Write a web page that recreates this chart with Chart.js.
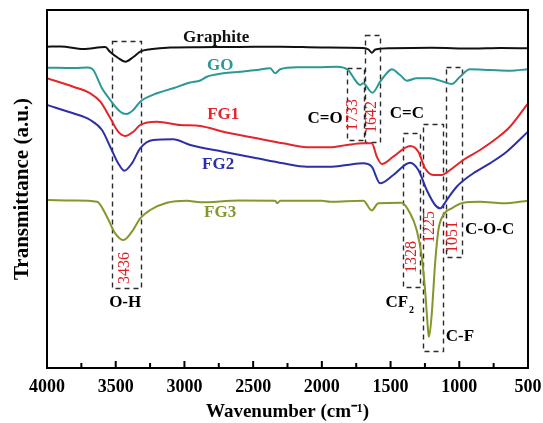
<!DOCTYPE html>
<html>
<head>
<meta charset="utf-8">
<script src="https://cdn.jsdelivr.net/npm/chart.js@4.4.1/dist/chart.umd.min.js"></script>
<style>
html, body { margin: 0; padding: 0; background: #ffffff; }
#wrap { width: 543px; height: 423px; }
</style>
</head>
<body>
<div id="wrap"><canvas id="ftir_graph" width="543" height="423"></canvas></div>
<script>
// wavenumber (cm-1) and transmittance (a.u., offset per curve)
const graphite_w = [4000,3900,3736,3576,3540,3482,3431,3372,3322,3249,3100,2900,2600,2300,2000,1700,1660,1637,1610,1500,1200,900,700,500];
const graphite_t = [320.3,320.6,318,320,315,309,305.3,310,315.3,317.7,319.5,319.8,320,320.3,319.5,319,317.5,314.3,317.5,318.7,319.2,318.5,319,318.7];

const go_w = [4000,3800,3700,3685,3663,3600,3540,3467,3423,3372,3322,3200,3082,2958,2885,2837,2718,2594,2473,2376,2340,2303,2182,2037,1891,1809,1758,1722,1700,1632,1576,1528,1491,1431,1382,1310,1213,1116,1055,995,922,777,631,500];
const go_t = [299.3,299,299.5,299,297,278.7,267,255.3,253,257,265.3,273.7,278.7,284.5,286.5,290.3,293.7,295.3,297,298.7,293.7,297.7,299.7,299.7,300.3,297,287,282,283.7,274.3,285.3,293.7,297.7,292,286.3,288.7,288.7,285.3,283,290.3,297.7,297,296.3,297.7];

const fg1_w = [4000,3809,3685,3612,3540,3482,3431,3372,3322,3200,3031,2885,2718,2473,2282,2109,1940,1818,1700,1637,1600,1564,1480,1358,1298,1249,1189,1128,1067,971,849,728,631,500];
const fg1_t = [288.7,280.3,273.7,265.3,249,235.3,231,235.3,242,245.3,242,241,235.3,228.7,223.7,219.7,219.7,222,223.7,223.7,210.3,203,210.3,221,215.3,198.7,192,192,197,207,217,228.7,240.3,263.7];

const fg2_w = [4000,3809,3685,3600,3540,3482,3438,3382,3322,3227,3082,2958,2718,2473,2282,2109,1940,1818,1700,1637,1576,1480,1358,1298,1237,1176,1140,1128,1091,1019,898,777,655,500];
const fg2_t = [262,253.7,247,237,220.3,203.7,196.3,203.7,218.7,227,227.7,222,215.3,208.7,203.7,200.3,200.3,202,203.7,200.3,183.7,192,204.3,197,177,162,158.7,159.5,167,180.3,193.7,203.7,215.3,235.3];

const fg3_w = [4000,3800,3636,3564,3504,3443,3382,3322,3249,3127,2982,2885,2600,2340,2325,2303,2000,1940,1698,1637,1589,1419,1358,1310,1273,1249,1225,1220,1200,1176,1152,1116,1055,971,849,680,500];
const fg3_t = [167,166.5,165.3,150.3,133.7,127,135.3,148.7,157,164.3,166.3,164.7,166.5,166.3,163.7,166.3,166.3,165.3,166.3,156.5,163.7,164.3,153.7,137,110.3,77,33.7,30.3,53.7,103.7,137,152,158.7,164.3,165.3,163.7,166.3];

const series_names  = ["Graphite", "GO", "FG1", "FG2", "FG3"];
const series_colors = ["#111111", "#2b9893", "#e2262c", "#2d2fa6", "#86962b"];

// peak markers: [from cm-1, to cm-1, top T, bottom T]
const peak_boxes = [
    [3530, 3322, 326.3, 79.7],
    [1685, 1576, 332, 225.3],
    [1818, 1693, 298.7, 227],
    [1096, 980, 300.3, 110.3],
    [1407, 1286, 233.7, 79.7],
    [1264, 1116, 242.7, 15.3]
];
const peak_numbers = [["3436", 3431, 99], ["1733", 1773, 252], ["1642", 1639, 250], ["1328", 1348, 110], ["1225", 1213, 140], ["1051", 1044, 130]];
const group_labels = [["C=O", 1977, 248], ["C=C", 1381, 253], ["O-H", 3431, 64], ["C-F", 995, 30], ["C-O-C", 779, 137]];
const curve_labels = [["Graphite", 2769, 329], ["GO", 2740, 301], ["FG1", 2718, 252], ["FG2", 2755, 202], ["FG3", 2740, 154]];

const SERIF = "'Liberation Serif', 'Times New Roman', serif";

function make_points(ws, ts){
    let pts = [];
    for (let i = 0; i < ws.length; i++){
        pts.push({x: ws[i], y: ts[i]});
    }
    return pts;
}

const all_w = [graphite_w, go_w, fg1_w, fg2_w, fg3_w];
const all_t = [graphite_t, go_t, fg1_t, fg2_t, fg3_t];
let datasets = [];
for (let i = 0; i < series_names.length; i++){
    datasets.push({
        label: series_names[i],
        data: make_points(all_w[i], all_t[i]),
        borderColor: series_colors[i],
        borderWidth: 2,
        pointRadius: 0,
        fill: false,
        cubicInterpolationMode: "monotone"
    });
}

//枠線・内向き目盛・注釈
const ftir_decor = {
    id: "ftir_decor",
    beforeDatasetsDraw(chart){
        const ctx = chart.ctx;
        const xs = chart.scales.x, ys = chart.scales.y;
        ctx.save();
        ctx.setLineDash([5, 4]);
        ctx.lineWidth = 1.4;
        ctx.strokeStyle = "#2a2a2a";
        for (let b of peak_boxes){
            const x1 = xs.getPixelForValue(b[0]), x2 = xs.getPixelForValue(b[1]);
            const y1 = ys.getPixelForValue(b[2]), y2 = ys.getPixelForValue(b[3]);
            ctx.strokeRect(Math.round(Math.min(x1, x2)) + 0.5, Math.round(Math.min(y1, y2)) + 0.5,
                           Math.round(Math.abs(x2 - x1)), Math.round(Math.abs(y2 - y1)));
        }
        ctx.restore();
    },
    afterDatasetsDraw(chart){
        const ctx = chart.ctx;
        const xs = chart.scales.x, ys = chart.scales.y;
        const a = chart.chartArea;
        ctx.save();
        ctx.textAlign = "center";
        ctx.textBaseline = "middle";

        // curve names
        ctx.font = "bold 17px " + SERIF;
        for (let i = 0; i < curve_labels.length; i++){
            const c = curve_labels[i];
            ctx.fillStyle = series_colors[i];
            ctx.fillText(c[0], xs.getPixelForValue(c[1]), ys.getPixelForValue(c[2]));
        }

        // bond labels
        ctx.fillStyle = "#000000";
        for (let g of group_labels){
            ctx.fillText(g[0], xs.getPixelForValue(g[1]), ys.getPixelForValue(g[2]));
        }
        // CF2 with subscript
        const cfx = xs.getPixelForValue(1433), cfy = ys.getPixelForValue(64);
        const w_cf = ctx.measureText("CF").width;
        ctx.textAlign = "left";
        ctx.fillText("CF", cfx - (w_cf + 6) / 2, cfy);
        ctx.font = "bold 10px " + SERIF;
        ctx.fillText("2", cfx - (w_cf + 6) / 2 + w_cf + 1, cfy + 7);
        ctx.textAlign = "center";

        // peak numbers (rotated)
        ctx.font = "16px " + SERIF;
        ctx.fillStyle = "#dc1f26";
        for (let p of peak_numbers){
            ctx.save();
            ctx.translate(xs.getPixelForValue(p[1]), ys.getPixelForValue(p[2]));
            ctx.rotate(-Math.PI / 2);
            ctx.fillText(p[0], 0, 0);
            ctx.restore();
        }

        // frame
        ctx.strokeStyle = "#000000";
        ctx.lineWidth = 2;
        ctx.strokeRect(a.left, a.top, a.right - a.left, a.bottom - a.top);

        // inward ticks
        ctx.lineWidth = 2;
        for (let t of xs.ticks){
            const px = xs.getPixelForValue(t.value);
            const len = (t.value % 500 === 0) ? 7 : 5;
            ctx.beginPath();
            ctx.moveTo(px, a.bottom);
            ctx.lineTo(px, a.bottom - len);
            ctx.stroke();
        }
        ctx.restore();
    }
};

window.addEventListener("load", function(){
    const ctx = document.getElementById("ftir_graph").getContext("2d");
    const myChart = new Chart(ctx, {
        type: "line",
        data: { datasets: datasets },
        options: {
            responsive: false,
            animation: false,
            devicePixelRatio: 1,
            layout: { padding: { top: 10, right: 15, left: 0, bottom: 0 } },
            plugins: {
                legend: { display: false },
                tooltip: { enabled: false }
            },
            scales: {
                x: {
                    type: "linear",
                    reverse: true,
                    min: 500,
                    max: 4000,
                    grid: { display: false },
                    border: { display: false },
                    afterFit: function(scale){
                        scale.height = 55;
                        scale.paddingLeft = 0;
                        scale.paddingRight = 0;
                    },
                    ticks: {
                        stepSize: 250,
                        autoSkip: false,
                        maxRotation: 0,
                        padding: 1,
                        color: "#000000",
                        font: { family: SERIF, size: 18, weight: "bold" },
                        callback: function(v){ return (v % 500 === 0) ? String(v) : ""; }
                    },
                    title: {
                        display: true,
                        text: "Wavenumber (cm\u207B\u00B9)",
                        color: "#000000",
                        font: { family: SERIF, size: 19, weight: "bold" },
                        padding: { top: 0, bottom: 0 }
                    }
                },
                y: {
                    min: -1,
                    max: 357,
                    grid: { display: false },
                    border: { display: false },
                    afterFit: function(scale){
                        scale.width = 47;
                        scale.paddingTop = 0;
                        scale.paddingBottom = 0;
                    },
                    ticks: { display: false },
                    title: {
                        display: true,
                        text: "Transmittance (a.u.)",
                        color: "#000000",
                        font: { family: SERIF, size: 21, weight: "bold" },
                        padding: { top: 10, bottom: 12 }
                    }
                }
            }
        },
        plugins: [ftir_decor]
    });
});
</script>
</body>
</html>
